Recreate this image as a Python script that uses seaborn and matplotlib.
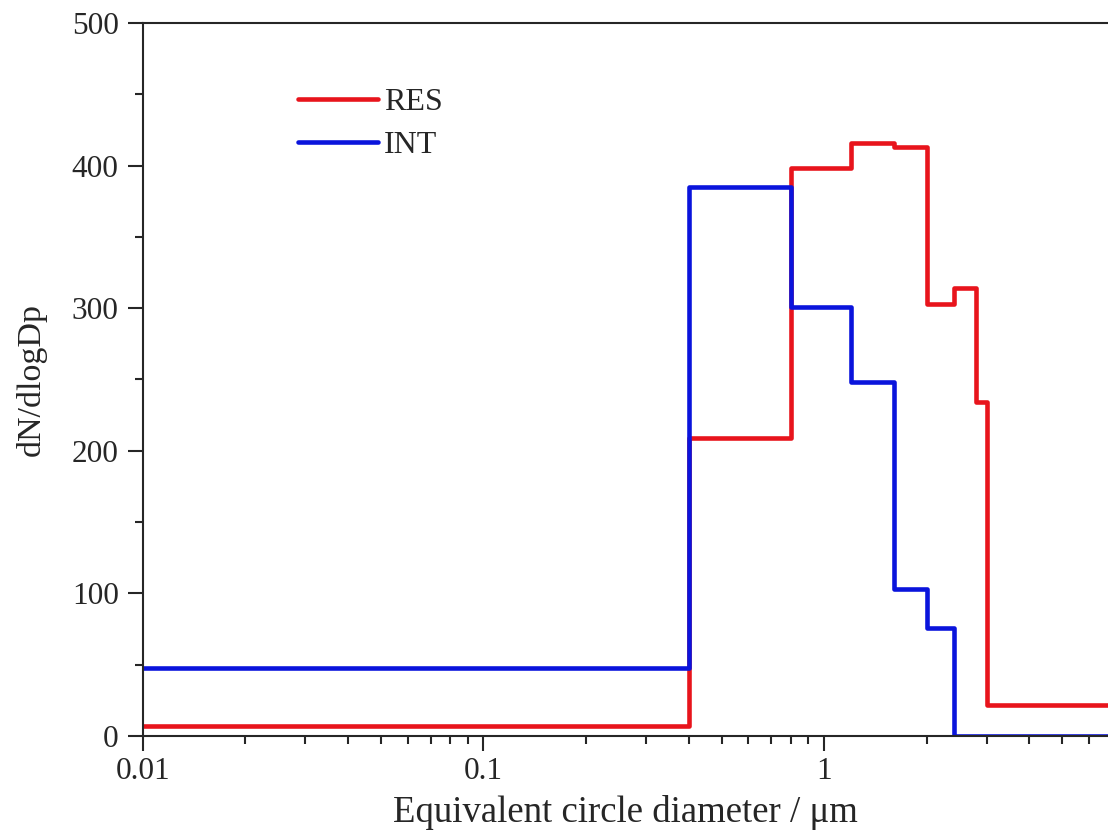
import seaborn as sns
import matplotlib.pyplot as plt
import matplotlib.ticker as mticker
import pandas as pd
import numpy as np

# bin edges (um) and dN/dlogDp values
edges = [0.01, 0.4, 0.8, 1.2, 1.6, 2.0, 2.4, 2.8, 3.0, 10.0]
res = [7, 209, 398, 416, 413, 303, 314, 234, 22]
int_ = [48, 385, 301, 248, 103, 76, 0, 0, 0]

sns.set_style('ticks')
plt.rcParams['font.family'] = ['Liberation Serif', 'DejaVu Serif']

df = pd.concat([
    pd.DataFrame({'d': edges, 'v': res + [res[-1]], 'series': 'RES'}),
    pd.DataFrame({'d': edges, 'v': int_ + [int_[-1]], 'series': 'INT'}),
])

fig = plt.figure(figsize=(11.08, 8.39), dpi=100)
ax = fig.add_axes([0.129, 0.1228, 0.871, 0.8498])
sns.lineplot(data=df, x='d', y='v', hue='series', palette={'RES': '#e8141c', 'INT': '#0a14dc'},
             drawstyle='steps-post', estimator=None, sort=False, linewidth=3.3, ax=ax)

ax.set_xscale('log')
ax.set_xlim(0.01, 6.82)
ax.set_ylim(0, 500)
ax.xaxis.set_major_formatter(mticker.FuncFormatter(lambda v, p: f'{v:g}'))
ax.yaxis.set_major_locator(mticker.MultipleLocator(100))
ax.yaxis.set_minor_locator(mticker.MultipleLocator(50))
ax.tick_params(which='major', length=10.5, width=1.5, labelsize=22.5, direction='out', pad=7)
ax.tick_params(which='minor', length=6, width=1.5, direction='out')
ax.tick_params(axis='x', which='minor', labelbottom=False)
ax.tick_params(axis='x', which='major', pad=5)
for s in ax.spines.values():
    s.set_linewidth(1.5)
ax.spines['right'].set_visible(False)

ax.set_xlabel('Equivalent circle diameter / μm', fontsize=26.5, labelpad=6)
ax.set_ylabel('dN/dlogDp', fontsize=24.5, labelpad=18)

leg = ax.legend(loc='upper left', bbox_to_anchor=(0.131, 0.95), frameon=False,
                fontsize=23, handlelength=2.5, handletextpad=0.2, labelspacing=0.45)
for ln in leg.get_lines():
    ln.set_linewidth(3.3)

fig.savefig('out.png', dpi=100)
